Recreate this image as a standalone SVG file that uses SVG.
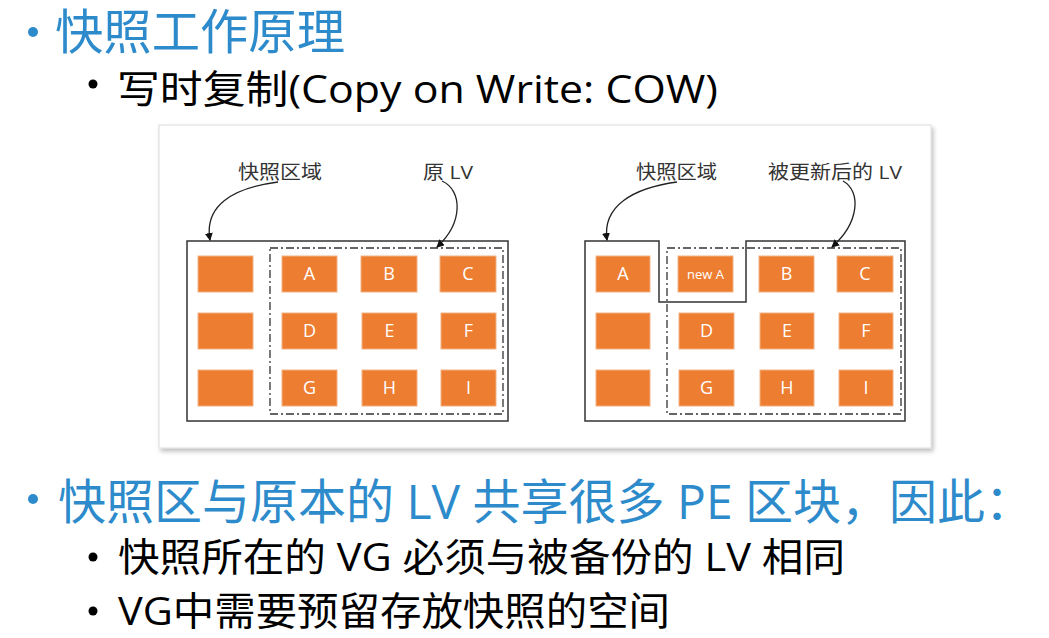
<svg xmlns="http://www.w3.org/2000/svg" width="1049" height="638" viewBox="0 0 1049 638">
<defs>
<style>
.h1{font-family:"Open Sans","Noto Sans CJK SC",sans-serif;font-size:48px;fill:#2E8BCB}
.h2{font-family:"Open Sans","Noto Sans CJK SC",sans-serif;font-size:39px;fill:#000}
.lbl{font-family:"Open Sans","Noto Sans CJK SC",sans-serif;font-size:19px;fill:#333}
.pe{fill:#ED7D31;stroke:#F4B183;stroke-width:1}
.pt{font-family:"Open Sans","Noto Sans CJK SC",sans-serif;font-size:18px;fill:#fff;text-anchor:middle}
.frame{fill:none;stroke:#333;stroke-width:1.5}
.dd{fill:none;stroke:#333;stroke-width:1.3;stroke-dasharray:8 3 2 3}
.arr{fill:none;stroke:#222;stroke-width:1.3;marker-end:url(#ah)}
</style>
<marker id="ah" markerWidth="8" markerHeight="8" refX="7" refY="4" orient="auto" markerUnits="userSpaceOnUse">
<path d="M0,0 L8,4 L0,8 Z" fill="#111"/>
</marker>
<filter id="sh" x="-5%" y="-5%" width="110%" height="115%">
<feDropShadow dx="2" dy="3" stdDeviation="2" flood-color="#000" flood-opacity="0.25"/>
</filter>
</defs>

<g id="title">
<circle cx="33" cy="32" r="5" fill="#2E8BCB"/>
<text class="h1" x="55" y="49" textLength="290" lengthAdjust="spacingAndGlyphs">快照工作原理</text>
</g>
<g id="sub-cow">
<circle cx="93" cy="84" r="4.5" fill="#000"/>
<text class="h2" x="117" y="103" textLength="601" lengthAdjust="spacingAndGlyphs">写时复制(Copy on Write: COW)</text>
</g>

<g id="panel">
<rect x="159" y="125" width="772" height="323" fill="#fff" stroke="#dcdcdc" stroke-width="1" filter="url(#sh)"/>
</g>

<g id="left-diagram">
<rect class="frame" x="187" y="241" width="321" height="180"/>
<rect class="dd" x="270" y="248" width="233" height="166"/>
<rect class="pe" x="198" y="256" width="55" height="36"/>
<rect class="pe" x="198" y="313" width="55" height="36"/>
<rect class="pe" x="198" y="370" width="55" height="36"/>
<g id="L-A"><rect class="pe" x="282" y="256" width="55" height="36"/><text class="pt" x="309.5" y="280">A</text></g>
<g id="L-B"><rect class="pe" x="361" y="256" width="56" height="36"/><text class="pt" x="389" y="280">B</text></g>
<g id="L-C"><rect class="pe" x="440" y="256" width="56" height="36"/><text class="pt" x="468" y="280">C</text></g>
<g id="L-D"><rect class="pe" x="282" y="313" width="55" height="36"/><text class="pt" x="309.5" y="337">D</text></g>
<g id="L-E"><rect class="pe" x="362" y="313" width="55" height="36"/><text class="pt" x="389.5" y="337">E</text></g>
<g id="L-F"><rect class="pe" x="441" y="313" width="55" height="36"/><text class="pt" x="468.5" y="337">F</text></g>
<g id="L-G"><rect class="pe" x="282" y="370" width="55" height="36"/><text class="pt" x="309.5" y="394">G</text></g>
<g id="L-H"><rect class="pe" x="362" y="370" width="55" height="36"/><text class="pt" x="389.5" y="394">H</text></g>
<g id="L-I"><rect class="pe" x="441" y="370" width="55" height="36"/><text class="pt" x="468.5" y="394">I</text></g>
<text class="lbl" x="238" y="179" textLength="84" lengthAdjust="spacingAndGlyphs">快照区域</text>
<text class="lbl" x="423" y="179" textLength="50" lengthAdjust="spacingAndGlyphs">原 LV</text>
</g>

<g id="right-diagram">
<path class="frame" d="M585,241 L659,241 L659,302 L746,302 L746,241 L905,241 L905,421 L585,421 Z"/>
<rect class="dd" x="667" y="248" width="234" height="166"/>
<g id="R-A"><rect class="pe" x="596" y="256" width="54" height="36"/><text class="pt" x="623" y="280">A</text></g>
<rect class="pe" x="596" y="313" width="54" height="36"/>
<rect class="pe" x="596" y="370" width="54" height="36"/>
<g id="R-newA"><rect class="pe" x="678" y="256" width="55" height="36"/><text class="pt" x="705.5" y="279" style="font-size:13px">new A</text></g>
<g id="R-B"><rect class="pe" x="759" y="256" width="55" height="36"/><text class="pt" x="786.5" y="280">B</text></g>
<g id="R-C"><rect class="pe" x="837" y="256" width="56" height="36"/><text class="pt" x="865" y="280">C</text></g>
<g id="R-D"><rect class="pe" x="679" y="313" width="55" height="36"/><text class="pt" x="706.5" y="337">D</text></g>
<g id="R-E"><rect class="pe" x="760" y="313" width="54" height="36"/><text class="pt" x="787" y="337">E</text></g>
<g id="R-F"><rect class="pe" x="839" y="313" width="54" height="36"/><text class="pt" x="866" y="337">F</text></g>
<g id="R-G"><rect class="pe" x="679" y="370" width="55" height="36"/><text class="pt" x="706.5" y="394">G</text></g>
<g id="R-H"><rect class="pe" x="760" y="370" width="54" height="36"/><text class="pt" x="787" y="394">H</text></g>
<g id="R-I"><rect class="pe" x="839" y="370" width="54" height="36"/><text class="pt" x="866" y="394">I</text></g>
<text class="lbl" x="636" y="179" textLength="81" lengthAdjust="spacingAndGlyphs">快照区域</text>
<text class="lbl" x="768" y="179" textLength="134" lengthAdjust="spacingAndGlyphs">被更新后的 LV</text>
</g>

<g id="connectors">
<path class="arr" d="M278,182 C232,188 204,206 210,240"/>
<path class="arr" d="M442,181 C462,190 464,222 437,247"/>
<path class="arr" d="M677,182 C633,188 602,206 607,240"/>
<path class="arr" d="M843,181 C861,191 860,222 832,247"/>
</g>

<g id="bottom">
<circle cx="33" cy="499" r="5" fill="#2E8BCB"/>
<text class="h1" x="58" y="519" textLength="975" lengthAdjust="spacingAndGlyphs">快照区与原本的 LV 共享很多 PE 区块，因此：</text>
<circle cx="93" cy="557" r="4.5" fill="#000"/>
<text class="h2" x="118" y="571" textLength="727" lengthAdjust="spacingAndGlyphs">快照所在的 VG 必须与被备份的 LV 相同</text>
<circle cx="93" cy="611" r="4.5" fill="#000"/>
<text class="h2" x="118" y="625" textLength="552" lengthAdjust="spacingAndGlyphs">VG中需要预留存放快照的空间</text>
</g>
</svg>
